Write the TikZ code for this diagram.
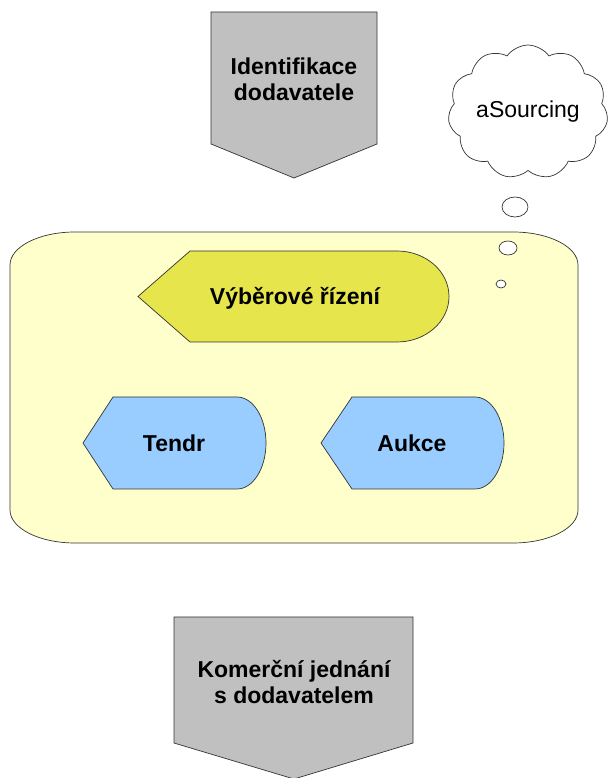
\documentclass[tikz,border=0pt]{standalone}
\usepackage{fontspec}
\setmainfont{Liberation Sans}
\usetikzlibrary{shapes.symbols}
\definecolor{boxgray}{HTML}{C0C0C0}
\definecolor{paleyellow}{HTML}{FFFFCC}
\definecolor{olive}{HTML}{E6E64C}
\definecolor{skyblue}{HTML}{99CCFF}
\tikzset{
  outline/.style = {draw=black!80,line width=0.7pt},
  lbl/.style = {align=center,font=\fontsize{23}{26}\selectfont\bfseries},
  thought/.style = {outline,fill=white}
}

\begin{document}
\begin{tikzpicture}[x=1pt,y=1pt]
  \useasboundingbox (0,0) rectangle (608,778);
  \def\BoxHalf{46}
  % step 1
  \draw[outline,fill=boxgray] (211,766)--(377,766)--(377,634)--(294,600)--(211,634)--cycle;
  \node[lbl] (ident) at (294,699) {Identifikace\\dodavatele};
  % container
  \draw[outline,fill=paleyellow] (10,268)--(10,513)
    arc[start angle=180,end angle=90,x radius=65,y radius=33]--(513,546)
    arc[start angle=90,end angle=0,x radius=65,y radius=33]--(578,268)
    arc[start angle=0,end angle=-90,x radius=65,y radius=33]--(75,235)
    arc[start angle=-90,end angle=-180,x radius=65,y radius=33]--cycle;
  % selection
  \draw[outline,fill=olive] (138,481.5)--(190,527)--(397,527)
    arc[start angle=90,end angle=-90,x radius=52,y radius=45.5]--(190,436)--cycle;
  \node[lbl] (vyber) at (295,480) {Výběrové řízení};
  % tender
  \draw[outline,fill=skyblue] (83,335)--(113,335+\BoxHalf)--(237,335+\BoxHalf)
    arc[start angle=90,end angle=-90,x radius=29,y radius=\BoxHalf]--(113,335-\BoxHalf)--cycle;
  \node[lbl] (tendr) at (174,335) {Tendr};
  % auction
  \draw[outline,fill=skyblue] (321,335)--(352,335+\BoxHalf)--(475,335+\BoxHalf)
    arc[start angle=90,end angle=-90,x radius=29,y radius=\BoxHalf]--(352,335-\BoxHalf)--cycle;
  \node[lbl] (aukce) at (412,335) {Aukce};
  % thought cloud
  \node[cloud,thought,cloud puffs=11,cloud puff arc=110,aspect=1.25,
        minimum width=160,minimum height=128,inner sep=0pt,
        font=\fontsize{23}{26}\selectfont] (asourcing) at (528,666) {aSourcing};
  \draw[thought] (515,571) ellipse[x radius=13,y radius=10];
  \draw[thought] (508,530) ellipse[x radius=9,y radius=7];
  \draw[thought] (501,494) ellipse[x radius=5,y radius=4];
  % step 2
  \draw[outline,fill=boxgray] (174,161)--(413,161)--(413,35)--(294,-1)--(174,35)--cycle;
  \node[lbl] (jednani) at (294,96) {Komerční jednání\\s dodavatelem};
\end{tikzpicture}
\end{document}
